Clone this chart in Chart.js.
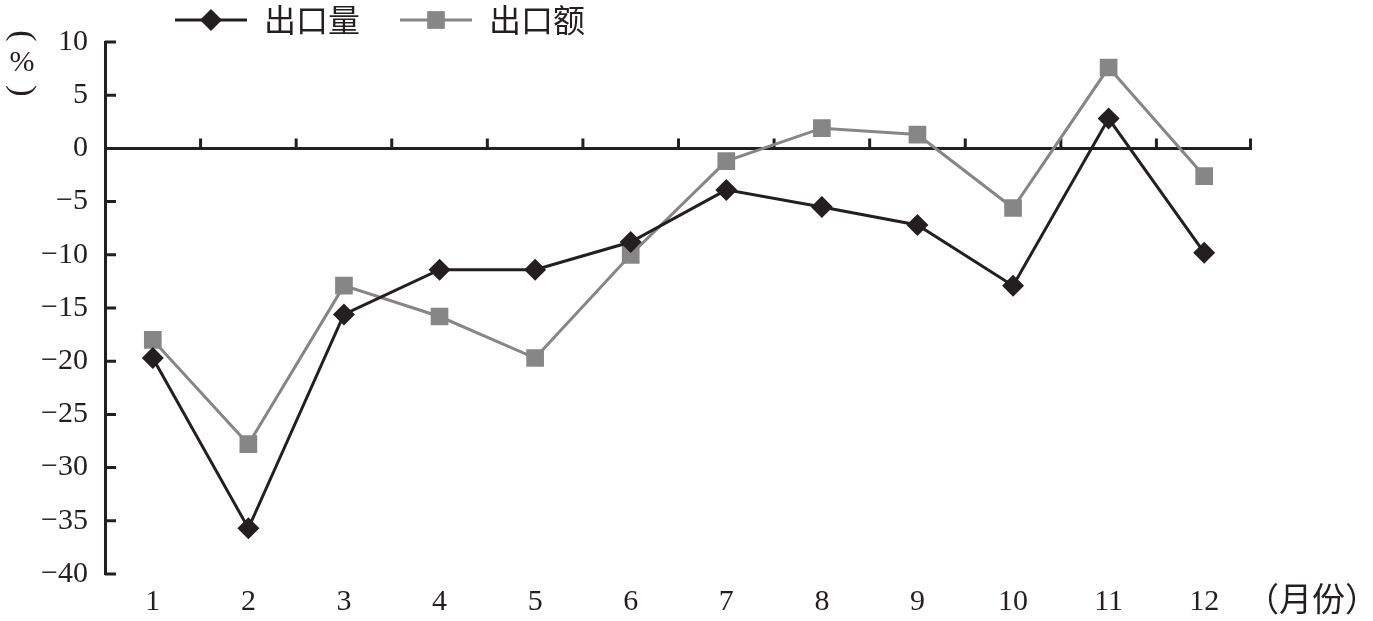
<!DOCTYPE html>
<html>
<head>
<meta charset="utf-8">
<script src="https://cdn.jsdelivr.net/npm/chart.js@4.4.1/dist/chart.umd.min.js"></script>
<style>
  html, body { margin: 0; padding: 0; background: #fff; }
  #wrap { width: 1373px; height: 621px; }
</style>
</head>
<body>
<div id="wrap"><canvas id="chart" width="1373" height="621"></canvas></div>
<script>
/* DATA */
const months = ["1", "2", "3", "4", "5", "6", "7", "8", "9", "10", "11", "12"];
const exportVolume = [-19.7, -35.7, -15.6, -11.4, -11.4, -8.8, -3.9, -5.5, -7.2, -12.9, 2.8, -9.8];
const exportValue = [-18.0, -27.8, -12.9, -15.8, -19.7, -10.0, -1.2, 1.9, 1.3, -5.6, 7.6, -2.6];
const seriesNames = ["出口量", "出口额"];
const yTicks = [10, 5, 0, -5, -10, -15, -20, -25, -30, -35, -40];
const yTitle = ["(", "%", ")"];
const xTitle = "（月份）";

const BLACK = "#231f20";
const GREY = "#868686";
const SERIF = "'Liberation Serif', 'DejaVu Serif', serif";
const CJK = "'Noto Sans CJK SC', sans-serif";

/* PLUGINS */
// zero line with upward ticks between months, y ticks pointing inward
const axisMarks = {
  id: "axisMarks",
  beforeDatasetsDraw(chart) {
    const { ctx, chartArea, scales: { x, y } } = chart;
    const y0 = y.getPixelForValue(0);
    const half = (x.getPixelForValue(1) - x.getPixelForValue(0)) / 2;
    ctx.save();
    ctx.strokeStyle = BLACK;
    ctx.lineWidth = 3;
    ctx.beginPath();
    ctx.moveTo(chartArea.left, y0);
    ctx.lineTo(chartArea.right, y0);
    months.forEach((m, i) => {
      const bx = Math.min(x.getPixelForValue(i) + half, chartArea.right - 1.5);
      ctx.moveTo(bx, y0);
      ctx.lineTo(bx, y0 - 10);
    });
    yTicks.forEach(v => {
      const py = y.getPixelForValue(v);
      ctx.moveTo(chartArea.left, py);
      ctx.lineTo(chartArea.left + 11, py);
    });
    ctx.stroke();
    ctx.restore();
  }
};

function drawMarker(ctx, style, cx, cy, r, color) {
  ctx.fillStyle = color;
  ctx.beginPath();
  if (style === "rectRot") {
    ctx.moveTo(cx, cy - r);
    ctx.lineTo(cx + r, cy);
    ctx.lineTo(cx, cy + r);
    ctx.lineTo(cx - r, cy);
  } else {
    const s = r * Math.SQRT1_2;
    ctx.rect(cx - s, cy - s, 2 * s, 2 * s);
  }
  ctx.closePath();
  ctx.fill();
}

// legend: line with marker in the middle, then the name
const lineLegend = {
  id: "lineLegend",
  afterDraw(chart) {
    const { ctx, chartArea } = chart;
    const ly = 20;
    let lx = chartArea.left + 70;
    ctx.save();
    ctx.font = "32px " + CJK;
    ctx.textBaseline = "middle";
    chart.data.datasets.forEach(ds => {
      ctx.strokeStyle = ds.borderColor;
      ctx.lineWidth = ds.borderWidth;
      ctx.beginPath();
      ctx.moveTo(lx, ly);
      ctx.lineTo(lx + 72, ly);
      ctx.stroke();
      drawMarker(ctx, ds.pointStyle, lx + 36, ly, ds.pointRadius, ds.pointBackgroundColor);
      ctx.fillStyle = BLACK;
      ctx.fillText(ds.label, lx + 89, ly);
      lx += 89 + ctx.measureText(ds.label).width + 40;
    });
    ctx.restore();
  }
};

// axis titles: vertical (%) on the left, (月份) to the right of the x axis
const axisTitles = {
  id: "axisTitles",
  afterDraw(chart) {
    const { ctx, chartArea, scales: { x } } = chart;
    ctx.save();
    ctx.fillStyle = BLACK;
    ctx.textAlign = "center";
    ctx.textBaseline = "middle";
    ctx.font = "34px " + SERIF;
    [[yTitle[0], 36], [yTitle[2], 91]].forEach(([t, cy]) => {
      ctx.save();
      ctx.translate(22, cy);
      ctx.rotate(Math.PI / 2);
      ctx.fillText(t, 0, 0);
      ctx.restore();
    });
    ctx.font = "30px " + SERIF;
    ctx.fillText(yTitle[1], 22, 63);
    ctx.textAlign = "left";
    ctx.font = "33px " + CJK;
    ctx.fillText(xTitle, chartArea.right - 6, x.top + 24);
    ctx.restore();
  }
};

/* CHART */
new Chart(document.getElementById("chart"), {
  type: "line",
  data: {
    labels: months,
    datasets: [
      {
        label: seriesNames[0],
        data: exportVolume,
        borderColor: BLACK,
        borderWidth: 3,
        pointStyle: "rectRot",
        pointRadius: 11,
        pointHoverRadius: 11,
        pointBackgroundColor: BLACK,
        pointBorderWidth: 0,
        tension: 0
      },
      {
        label: seriesNames[1],
        data: exportValue,
        borderColor: GREY,
        borderWidth: 3,
        pointStyle: "rect",
        pointRadius: 12.5,
        pointHoverRadius: 12.5,
        pointBackgroundColor: GREY,
        pointBorderWidth: 0,
        tension: 0
      }
    ]
  },
  options: {
    responsive: false,
    animation: false,
    layout: { padding: { top: 42, right: 121, left: 0, bottom: 0 } },
    plugins: {
      legend: { display: false },
      tooltip: { enabled: false }
    },
    scales: {
      x: {
        offset: true,
        grid: { display: false, drawTicks: false },
        border: { display: false },
        ticks: { color: BLACK, font: { family: SERIF, size: 30 }, padding: 10, maxRotation: 0 },
        afterFit: s => { s.height = 47; }
      },
      y: {
        min: -40,
        max: 10,
        grid: { display: false, drawTicks: false },
        border: { display: true, color: BLACK, width: 3 },
        ticks: {
          stepSize: 5,
          color: BLACK,
          font: { family: SERIF, size: 30 },
          padding: 17,
          callback: v => String(v).replace("-", "\u2212")
        },
        afterFit: s => { s.width = 105; }
      }
    }
  },
  plugins: [axisMarks, lineLegend, axisTitles]
});
</script>
</body>
</html>
